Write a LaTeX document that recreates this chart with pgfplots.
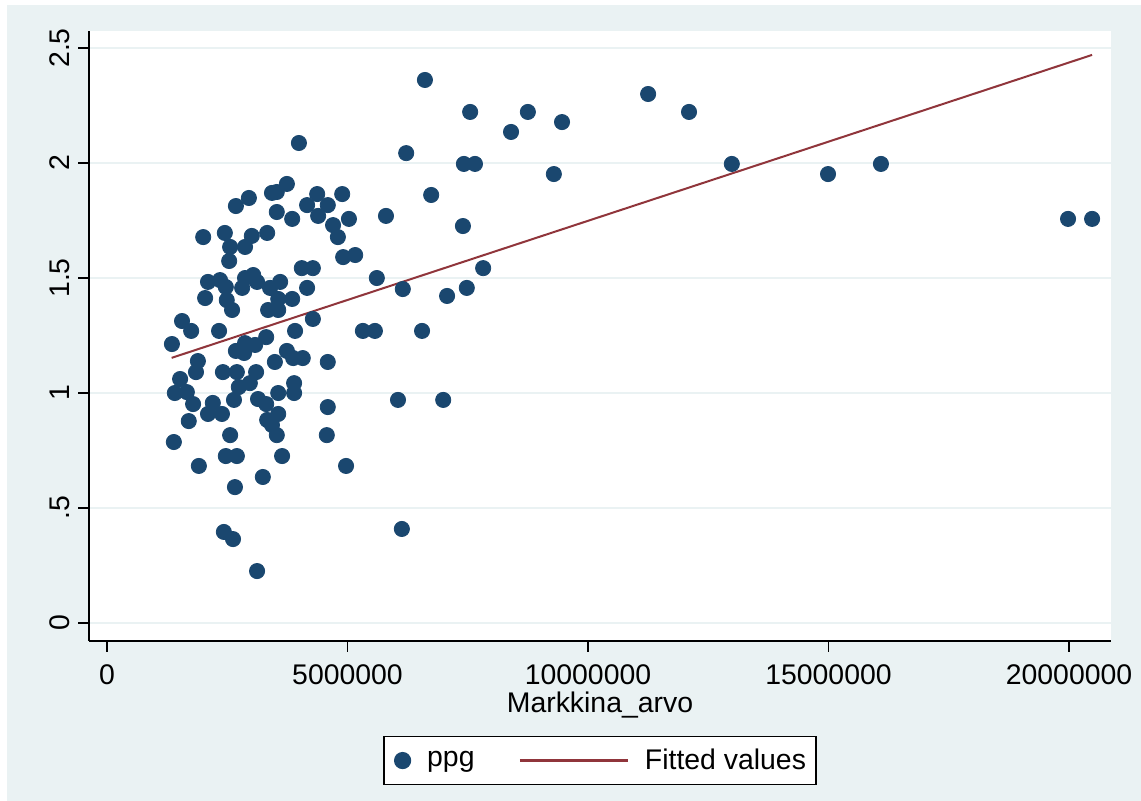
\documentclass[border=0pt]{standalone}
\usepackage{fontspec}
\setmainfont{Liberation Sans}
\usepackage{pgfplots}
\pgfplotsset{compat=1.18}
\definecolor{bgc}{HTML}{EAF2F3}
\definecolor{gridc}{HTML}{EAF2F3}
\definecolor{navy}{HTML}{1A476F}
\definecolor{maroon}{HTML}{90353B}
\begin{document}
\begin{tikzpicture}[font=\fontsize{14.2}{17}\selectfont]
\useasboundingbox (0,0) rectangle (570.5pt,400.5pt);
\fill[bgc] (3.5pt,0) rectangle (570.5pt,398pt);
\begin{axis}[
  at={(44.5pt,80pt)}, anchor=south west,
  scale only axis, width=511pt, height=305pt,
  xmin=-374000, xmax=20873000, ymin=-0.078, ymax=2.574,
  axis background/.style={fill=white},
  axis x line*=bottom, axis y line*=left,
  axis line style={black, line width=0.6pt},
  every inner x axis line/.append style={-},
  every inner y axis line/.append style={-},
  every outer x axis line/.append style={-},
  every outer y axis line/.append style={-},
  xtick={0,5000000,10000000,15000000,20000000},
  xticklabels={0,5000000,10000000,15000000,20000000},
  ytick={0,0.5,1,1.5,2,2.5},
  yticklabels={0,.5,1,1.5,2,2.5},
  scaled x ticks=false, scaled y ticks=false,
  /pgf/number format/assume math mode=true,
  tick align=outside, major tick length=5.5pt,
  tick style={black, line width=0.6pt},
  ymajorgrids, grid style={gridc, line width=1pt},
  xticklabel style={anchor=north, inner sep=0pt},
  xticklabel shift=6pt,
  yticklabel style={rotate=90, anchor=south, inner sep=0pt},
  yticklabel shift=4pt,
  xlabel={Markkina\_arvo},
  xlabel style={at={(axis description cs:0.5,0)}, anchor=north, inner sep=0pt, yshift=-25.5pt},
  legend columns=2,
  legend style={at={(0.5,-0.196)}, anchor=center, draw=black, line width=0.6pt, fill=white,
    inner xsep=5pt, inner ysep=6pt,
    nodes={inner sep=0pt, text depth=0.15em},
    /tikz/every odd column/.append style={column sep=8pt},
    /tikz/every even column/.append style={column sep=22pt}},
]
\addplot[only marks, mark=*, mark size=3.8pt, mark options={fill=navy, draw=navy, line width=0.4pt},
  legend image code/.code={\fill[navy] (4pt,0pt) circle (4pt);}]
table[row sep=\\] {
x y\\
2680000 1.813\\ 2950000 1.848\\ 2000000 1.678\\ 2450000 1.696\\ 2560000 1.635\\
2540000 1.574\\ 2870000 1.635\\ 3010000 1.683\\ 3330000 1.696\\ 3430000 1.870\\
3530000 1.874\\ 3740000 1.909\\ 3530000 1.787\\ 3850000 1.757\\ 4160000 1.817\\
4370000 1.865\\ 4590000 1.817\\ 4390000 1.770\\ 4890000 1.865\\ 4700000 1.730\\
4800000 1.678\\ 5030000 1.757\\ 4910000 1.591\\ 5160000 1.600\\ 4050000 1.543\\
4280000 1.543\\ 3990000 2.087\\ 5800000 1.770\\ 6220000 2.043\\ 6610000 2.361\\
6740000 1.861\\ 7400000 1.726\\ 7420000 1.996\\ 7650000 1.996\\ 7550000 2.222\\
8400000 2.135\\ 8750000 2.222\\ 9290000 1.952\\ 9460000 2.178\\ 7820000 1.543\\
2100000 1.483\\ 2350000 1.491\\ 2470000 1.461\\ 2490000 1.404\\ 2600000 1.361\\
2040000 1.413\\ 2810000 1.457\\ 2870000 1.500\\ 3040000 1.513\\ 3120000 1.483\\
3390000 1.457\\ 3600000 1.483\\ 3560000 1.409\\ 3850000 1.409\\ 3350000 1.361\\
3560000 1.361\\ 4160000 1.457\\ 4280000 1.322\\ 1560000 1.313\\ 5610000 1.500\\
6150000 1.452\\ 7070000 1.422\\ 7480000 1.457\\
1750000 1.270\\ 1350000 1.213\\ 2330000 1.270\\ 3910000 1.270\\ 5320000 1.270\\
5570000 1.270\\ 6550000 1.270\\ 1890000 1.139\\ 1850000 1.091\\ 1520000 1.061\\
1410000 1.000\\ 1660000 1.004\\ 1790000 0.952\\ 1700000 0.878\\ 1390000 0.787\\
2680000 1.183\\ 2870000 1.217\\ 3080000 1.209\\ 3310000 1.243\\ 2850000 1.174\\
2410000 1.091\\ 2700000 1.091\\ 3100000 1.091\\ 2740000 1.026\\ 2970000 1.043\\
2640000 0.970\\ 2200000 0.957\\ 2100000 0.909\\ 2390000 0.909\\ 3140000 0.974\\
3310000 0.952\\ 3560000 1.000\\ 3890000 1.043\\ 3890000 1.000\\ 3560000 0.909\\
3330000 0.883\\ 3430000 0.861\\ 3740000 1.183\\ 3870000 1.152\\ 4070000 1.152\\
3490000 1.135\\ 4590000 1.135\\ 4590000 0.939\\ 6050000 0.970\\ 6990000 0.970\\
2560000 0.817\\ 3530000 0.817\\ 4570000 0.817\\ 2470000 0.726\\ 2700000 0.726\\
3640000 0.726\\ 1910000 0.683\\ 4970000 0.683\\ 2660000 0.591\\ 3240000 0.635\\
2430000 0.396\\ 2620000 0.365\\ 3120000 0.226\\ 6130000 0.409\\
11250000 2.300\\ 12100000 2.222\\ 12990000 1.996\\ 14990000 1.952\\ 16090000 1.996\\
19980000 1.757\\ 20480000 1.757\\
};
\addlegendentry{ppg}
\addplot[maroon, line width=1pt,
  legend image code/.code={\draw[maroon, line width=1.2pt] (0pt,0pt) -- (54pt,0pt);}]
coordinates {(1345000,1.153) (20480000,2.470)};
\addlegendentry{Fitted values}
\end{axis}
\end{tikzpicture}
\end{document}
